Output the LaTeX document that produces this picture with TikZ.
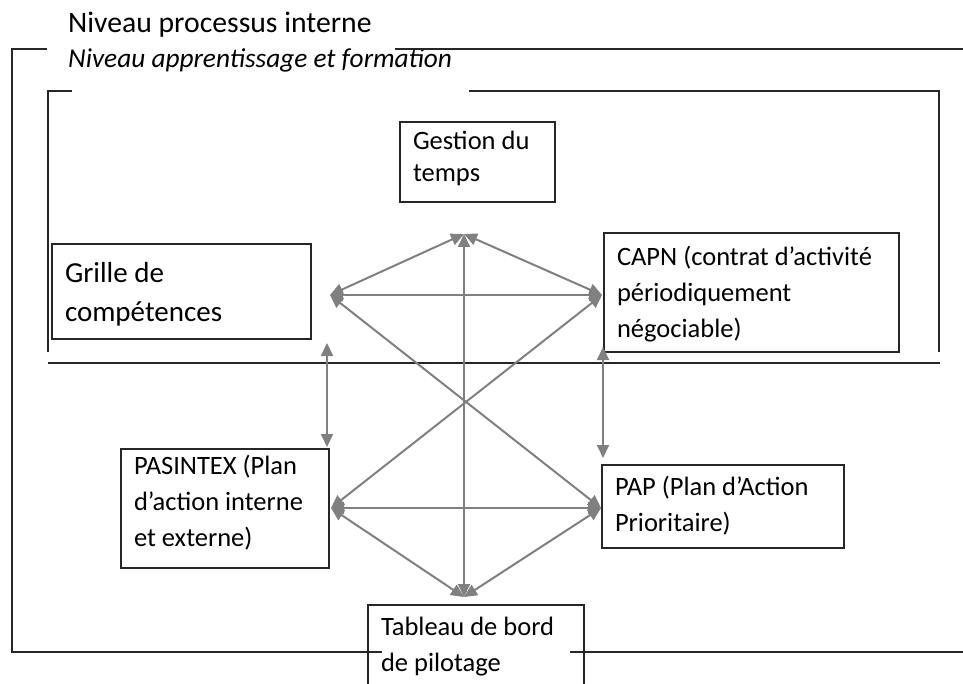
\documentclass[tikz,border=0pt]{standalone}
\usepackage{fontspec}
\setmainfont{Carlito}
\usepackage{tikz}
\usetikzlibrary{arrows.meta}

\tikzset{
  frame/.style={black!85,line width=1.4pt},
  title/.style={anchor=base west,inner sep=0pt},
  link/.style={draw=black!50,line width=2pt,{Triangle[length=13pt,width=12pt]}-{Triangle[length=13pt,width=12pt]}},
}

\begin{document}
\begin{tikzpicture}[x=1pt,y=-1pt]
  \useasboundingbox (0,0) rectangle (963,684);
  \clip (0,0) rectangle (963,684);

  % the two levels
  \node[title,font=\fontsize{29.7}{34}\selectfont] (niveauPI) at (68,33) {Niveau processus interne};
  \node[title,font=\fontsize{27.3}{32}\selectfont\itshape] (niveauAF) at (68,68) {Niveau apprentissage et formation};
  \draw[frame] (47,49) -| (12,652) -- (382,652);
  \draw[frame] (395,49) -- (963,49);
  \draw[frame] (570,652) -- (963,652);
  \draw[frame] (72,91) -| (48,352);
  \draw[frame] (469,91) -| (939,352);
  \draw[frame] (48,363) -- (940,363);

  \begin{scope}[every node/.style={rectangle,draw=black!85,line width=1.4pt,anchor=north west,inner xsep=13pt,inner ysep=0pt,outer sep=0pt,font=\fontsize{26.5}{36}\selectfont}]
    \node[font=\fontsize{26.5}{32}\selectfont] (gestion) at (400,122) {\parbox[c][80pt][t]{129pt}{\vspace*{5pt}\strut Gestion du\\temps}};
    \node[font=\fontsize{29}{40}\selectfont] (grille) at (52,244) {\parbox[c][95pt][t]{233pt}{\vspace*{10pt}\strut Grille de\\compétences}};
    \node (capn) at (604,233) {\parbox[c][119pt][t]{269pt}{\vspace*{7pt}\strut CAPN (contrat d’activité\\périodiquement\\négociable)}};
    \node (pasintex) at (121,449) {\parbox[c][119pt][t]{182pt}{\strut PASINTEX (Plan\\d’action interne\\et externe)}};
    \node (pap) at (602,465) {\parbox[c][83pt][t]{216pt}{\vspace*{5pt}\strut PAP (Plan d’Action\\Prioritaire)}};
    \node (tableau) at (368,605) {\parbox[c][100pt][t]{190pt}{\vspace*{5pt}\strut Tableau de bord\\de pilotage}};
  \end{scope}

  \begin{scope}
    \coordinate (T) at ([shift={(-13.5,32)}]gestion.south);
    \coordinate (B) at ([shift={(-12,-8)}]tableau.north);
    \coordinate (L) at ([shift={(19,3.5)}]grille.east);
    \coordinate (R) at ([shift={(-2,2.5)}]capn.west);
    \coordinate (PL) at ([shift={(2,-0.5)}]pasintex.east);
    \coordinate (PR) at ([shift={(-1,1.5)}]pap.west);

    \draw[link] (T) -- (B);
    \draw[link] (T) -- (L);
    \draw[link] (T) -- (R);
    \draw[link] (L) -- (R);
    \draw[link] (L) -- (PR);
    \draw[link] (R) -- (PL);
    \draw[link] (PL) -- (PR);
    \draw[link] (PL) -- (B);
    \draw[link] (PR) -- (B);
    \draw[link] ([shift={(16,4)}]grille.south east) -- ([shift={(-2,-2)}]pasintex.north east);
    \draw[link] ([shift={(-1,-5)}]capn.south west) -- ([shift={(1,-7)}]pap.north west);
  \end{scope}
\end{tikzpicture}
\end{document}
